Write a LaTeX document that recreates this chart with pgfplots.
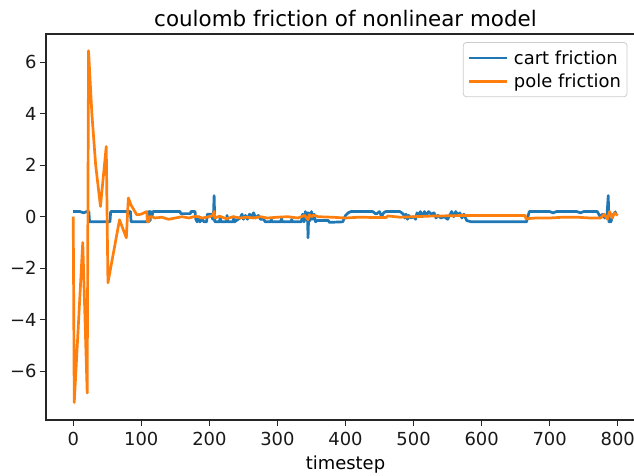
\documentclass[border=0pt]{standalone}
\usepackage{fontspec}
\setmainfont{DejaVu Sans}
\usepackage{pgfplots}
\pgfplotsset{compat=1.18}
\definecolor{c0}{HTML}{1F77B4}
\definecolor{c1}{HTML}{FF7F0E}
\begin{document}
\begin{tikzpicture}
\begin{axis}[
  at={(46bp,56bp)}, anchor=south west,
  width=599bp, height=386bp, scale only axis,
  xmin=-40, xmax=840, ymin=-7.9, ymax=7.1,
  xtick={0,100,...,800}, ytick={-6,-4,...,6},
  yticklabels={−6,−4,−2,0,2,4,6},
  tick align=outside, xtick pos=left, ytick pos=left,
  major tick length=6bp,
  tick style={black!85, line width=1.1bp},
  axis line style={black!85, line width=1.1bp},
  ticklabel style={font=\fontsize{18}{21}\selectfont, text=black!90},
  xticklabel style={yshift=-3bp},
  /pgf/number format/assume math mode=true,
  title={coulomb friction of nonlinear model},
  title style={font=\fontsize{21.5}{25}\selectfont, yshift=-2bp},
  xlabel={timestep},
  xlabel style={font=\fontsize{18}{21}\selectfont, yshift=-3bp},
  legend style={at={(0.696,0.979)}, anchor=north west, rounded corners=3bp,
    draw=black!20, line width=0.8bp, font=\fontsize{18}{21}\selectfont, row sep=4bp,
    inner xsep=4bp, inner ysep=6bp,
    /tikz/every odd column/.append style={column sep=4bp}},
  legend cell align=left,
  legend image code/.code={\draw[#1] (0bp,0bp) -- (38bp,0bp);},
  every axis plot/.append style={line width=2.7bp, line join=round},
]
\addplot[c0] coordinates {
(0,0.2) (10,0.2) (15,0.15) (20,0.2) (23,0.2) (24,-0.2) (54,-0.2) (55,0.2) (84,0.2) (85,-0.2)
(109,-0.2) (110,0.2) (111,-0.2) (112,0.2) (113,-0.15) (114,0.2) (116,0.05) (117,0.2)
(157,0.2) (158,0.12) (172,0.12) (173,0.2) (179,0.2) (180,-0.1) (182,-0.2) (185,0.0)
(186,-0.2) (190,-0.1) (192,-0.2) (196,-0.2) (197,0.1) (203,0.1) (205,-0.1) (206,0.05)
(207,0.82) (208,-0.2) (215,-0.2) (216,0.0) (217,-0.2) (225,-0.2) (226,0.05) (227,-0.2)
(235,-0.2) (236,0.0) (237,-0.2) (245,-0.05) (248,0.1) (250,-0.1) (253,0.05) (256,-0.1)
(259,0.1) (262,0.0) (265,0.15) (268,-0.05) (272,0.05) (275,-0.1) (280,-0.1) (282,-0.2)
(290,-0.2) (291,-0.1) (292,-0.2) (305,-0.2) (306,-0.05) (307,-0.2) (320,-0.2) (321,-0.1)
(322,-0.2) (335,-0.2) (337,0.1) (339,-0.2) (341,0.2) (343,-0.15) (344,0.15) (345,-0.82)
(346,0.15) (348,-0.15) (350,0.2) (352,-0.1) (354,0.1) (356,-0.2) (358,-0.15) (375,-0.15)
(376,-0.22) (396,-0.2) (400,0.05) (404,0.15) (408,0.2) (440,0.2) (445,0.1) (450,0.2)
(453,0.0) (456,0.15) (459,0.2) (480,0.2) (485,0.1) (487,-0.05) (489,0.1) (491,-0.1)
(493,0.05) (496,-0.05) (500,0.0) (503,-0.1) (505,0.15) (508,0.05) (510,0.2) (513,0.0)
(516,0.2) (519,0.05) (522,0.2) (526,0.1) (530,0.15) (533,-0.05) (536,0.05) (540,-0.05)
(545,0.0) (550,-0.1) (553,0.05) (556,0.2) (559,0.0) (562,0.2) (565,0.05) (568,0.15)
(571,-0.05) (574,0.1) (578,-0.15) (585,-0.2) (593,-0.2) (600,-0.2) (620,-0.2) (640,-0.2)
(650,-0.2) (666,-0.2) (670,0.2) (700,0.2) (705,0.15) (710,0.2) (740,0.2) (745,0.15)
(750,0.2) (770,0.2) (774,0.0) (778,0.1) (781,-0.05) (784,0.0) (786,0.82) (787,-0.2)
(790,-0.2) (792,0.0) (795,0.15) (798,0.2)
};
\addlegendentry{cart friction}
\addplot[c1] coordinates {
(0,0.0) (1.5,-7.22) (14,-1.0) (20.5,-6.85) (22.5,6.45) (27.4,4.0) (33,2.0) (40,0.4)
(48.5,2.73) (51,-2.57) (68,-0.12) (78,-0.82) (81,0.73) (85,0.45) (93.5,0.07) (100,0.1)
(108,0.2) (109,-0.2) (111,-0.2) (112,0.0) (115,0.0) (120,-0.05) (130,-0.02) (140,-0.1)
(150,-0.05) (160,0.0) (170,-0.05) (180,0.02) (190,-0.05) (200,0.0) (205,0.05) (207,0.2)
(208,-0.05) (215,0.02) (225,-0.08) (235,0.0) (245,-0.05) (255,-0.02) (265,-0.05) (275,0.0)
(285,-0.05) (300,-0.02) (315,0.0) (330,-0.05) (340,0.05) (343,-0.05) (345,-0.12) (347,0.08)
(350,0.0) (353,0.06) (360,0.0) (380,-0.02) (400,-0.05) (420,-0.02) (440,-0.03) (460,-0.03)
(462,0.03) (480,-0.02) (500,0.0) (520,0.02) (540,0.03) (560,0.04) (580,0.05) (600,0.05)
(620,0.05) (640,0.05) (664,0.05) (665,-0.08) (680,-0.05) (700,-0.05) (720,-0.02)
(740,-0.02) (760,-0.05) (775,-0.05) (780,0.1) (785,-0.1) (788,0.2) (792,-0.05) (795,0.15)
(800,0.05)
};
\addlegendentry{pole friction}
\end{axis}
\pgfresetboundingbox
\useasboundingbox (0,0) rectangle (634bp,476bp);
\end{tikzpicture}
\end{document}
